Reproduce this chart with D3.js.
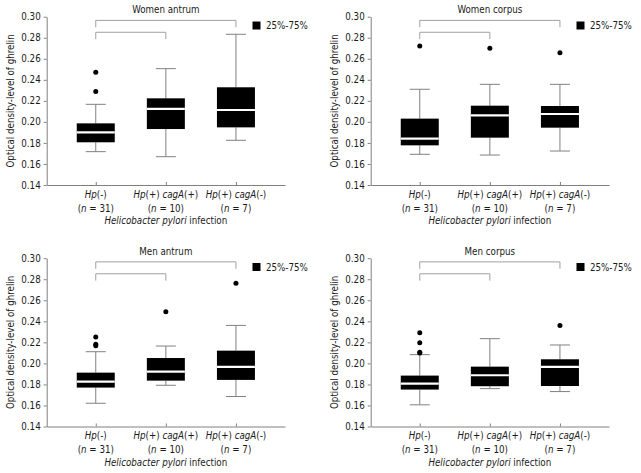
<!DOCTYPE html>
<html><head><meta charset="utf-8">
<script src="https://cdn.jsdelivr.net/npm/d3@7"></script>
<style>
body{margin:0;background:#fff;}
svg{display:block;}
text{font-family:"DejaVu Sans Condensed","DejaVu Sans",sans-serif;font-stretch:condensed;fill:#1a1a1a;}
</style></head>
<body><svg id="chart" width="641" height="473"></svg>
<script>
// ---------- data ----------
const categories = ["Hp(-)", "Hp(+) cagA(+)", "Hp(+) cagA(-)"];
const sampleSizes = [31, 10, 7];
const panelTitles = ["Women antrum", "Women corpus", "Men antrum", "Men corpus"];
const yTicks = [0.14, 0.16, 0.18, 0.20, 0.22, 0.24, 0.26, 0.28, 0.30];
const legendLabel = "25%-75%";
const xAxisTitle = ["Helicobacter pylori", " infection"];
const yAxisTitle = "Optical density-level of ghrelin";

// each row: [whisker low, Q1, median, Q3, whisker high]
const womenAntrum = [
  [0.1717, 0.1806, 0.1900, 0.1986, 0.2167],
  [0.1669, 0.1932, 0.2123, 0.2224, 0.2506],
  [0.1825, 0.1948, 0.2113, 0.2329, 0.2833]
];
const womenAntrumOutliers = [[0.2471, 0.2288], [], []];

const womenCorpus = [
  [0.1692, 0.1777, 0.1840, 0.2031, 0.2310],
  [0.1685, 0.1850, 0.2062, 0.2154, 0.2357],
  [0.1723, 0.1945, 0.2075, 0.2151, 0.2357]
];
const womenCorpusOutliers = [[0.2722], [0.2700], [0.2658]];

const menAntrum = [
  [0.1621, 0.1770, 0.1827, 0.1912, 0.2111],
  [0.1792, 0.1836, 0.1922, 0.2051, 0.2165],
  [0.1685, 0.1843, 0.1966, 0.2121, 0.2361]
];
const menAntrumOutliers = [[0.2251, 0.2183, 0.2168], [0.2491], [0.2763]];

const menCorpus = [
  [0.1606, 0.1751, 0.1808, 0.1884, 0.2083],
  [0.1760, 0.1783, 0.1887, 0.1969, 0.2235],
  [0.1732, 0.1785, 0.1966, 0.2039, 0.2175]
];
const menCorpusOutliers = [[0.2292, 0.2197, 0.2106, 0.2099], [], [0.2361]];

// comparison brackets: [from category index, to category index, level]
const brackets = [[0, 2, 0.2965], [0, 1, 0.2852]];
const bracketDrop = 0.0065;

// ---------- drawing ----------
const panels = [
  {title: panelTitles[0], stats: womenAntrum, out: womenAntrumOutliers, ox: 0,   oy: 0},
  {title: panelTitles[1], stats: womenCorpus, out: womenCorpusOutliers, ox: 324, oy: 0},
  {title: panelTitles[2], stats: menAntrum,   out: menAntrumOutliers,   ox: 0,   oy: 241.5},
  {title: panelTitles[3], stats: menCorpus,   out: menCorpusOutliers,   ox: 324, oy: 241.5}
];

const svg = d3.select("#chart");
const FS = 9.7;
const gray = "#808080";

panels.forEach(p => {
  const g = svg.append("g").attr("transform", `translate(${p.ox},${p.oy})`);
  const y = d3.scaleLinear().domain([0.14, 0.30]).range([185, 16.7]);
  const x = d3.scalePoint().domain(categories).range([46.7, 285]).padding(0.7);
  const boxW = 38, capW = 20;

  // y axis
  const ya = g.append("g").attr("transform", "translate(46.7,0)")
    .call(d3.axisLeft(y).tickValues(yTicks).tickFormat(d3.format(".2f")).tickSize(3).tickSizeOuter(0).tickPadding(3));
  ya.selectAll("path,line").attr("stroke", gray);
  ya.selectAll("text").attr("font-size", FS).attr("fill", "#1a1a1a");
  ya.attr("font-family", null).attr("font-size", null);

  // x axis
  const xa = g.append("g").attr("transform", "translate(0,185)")
    .call(d3.axisBottom(x).tickSize(-3).tickSizeOuter(0).tickFormat(""));
  xa.selectAll("path,line").attr("stroke", gray);
  xa.attr("font-family", null);

  // brackets
  brackets.forEach(b => {
    const x1 = x(categories[b[0]]), x2 = x(categories[b[1]]);
    g.append("path")
      .attr("d", `M${x1},${y(b[2] - bracketDrop)}V${y(b[2])}H${x2}V${y(b[2] - bracketDrop)}`)
      .attr("fill", "none").attr("stroke", "#a0a0a0").attr("stroke-width", 1);
  });

  // boxes
  p.stats.forEach((s, i) => {
    const cx = x(categories[i]);
    const [lo, q1, med, q3, hi] = s;
    g.append("line").attr("x1", cx).attr("x2", cx).attr("y1", y(q3)).attr("y2", y(hi)).attr("stroke", gray);
    g.append("line").attr("x1", cx).attr("x2", cx).attr("y1", y(q1)).attr("y2", y(lo)).attr("stroke", gray);
    g.append("line").attr("x1", cx - capW / 2).attr("x2", cx + capW / 2).attr("y1", y(hi)).attr("y2", y(hi)).attr("stroke", gray);
    g.append("line").attr("x1", cx - capW / 2).attr("x2", cx + capW / 2).attr("y1", y(lo)).attr("y2", y(lo)).attr("stroke", gray);
    g.append("rect").attr("x", cx - boxW / 2).attr("width", boxW)
      .attr("y", y(q3)).attr("height", y(q1) - y(q3)).attr("fill", "#000");
    g.append("line").attr("x1", cx - boxW / 2).attr("x2", cx + boxW / 2).attr("y1", y(med)).attr("y2", y(med))
      .attr("stroke", "#fff").attr("stroke-width", 2.2);
    p.out[i].forEach(v => {
      g.append("circle").attr("cx", cx).attr("cy", y(v)).attr("r", 2.5).attr("fill", "#000");
    });
  });

  // title
  g.append("text").attr("x", x(categories[1])).attr("y", 13.3).attr("text-anchor", "middle")
    .attr("font-size", FS).text(p.title);

  // legend
  g.append("rect").attr("x", 252.5).attr("y", 21.5).attr("width", 8).attr("height", 8).attr("fill", "#000");
  g.append("text").attr("x", 266).attr("y", 29).attr("font-size", FS).text(legendLabel);

  // category labels
  categories.forEach((c, i) => {
    const cx = x(c);
    const t1 = g.append("text").attr("x", cx).attr("y", 197.5).attr("text-anchor", "middle").attr("font-size", FS);
    const parts = c.split(" ");
    parts.forEach((part, k) => {
      const m = part.match(/^([A-Za-z]+)(.*)$/);
      t1.append("tspan").attr("font-style", "italic").text((k > 0 ? " " : "") + m[1]);
      t1.append("tspan").text(m[2]);
    });
    const t2 = g.append("text").attr("x", cx).attr("y", 211.5).attr("text-anchor", "middle").attr("font-size", FS);
    t2.append("tspan").text("(");
    t2.append("tspan").attr("font-style", "italic").text("n");
    t2.append("tspan").text(" = " + sampleSizes[i] + ")");
  });

  // x axis title
  const xt = g.append("text").attr("x", x(categories[1])).attr("y", 224).attr("text-anchor", "middle").attr("font-size", FS);
  xt.append("tspan").attr("font-style", "italic").text(xAxisTitle[0]);
  xt.append("tspan").text(xAxisTitle[1]);

  // y axis title
  g.append("text").attr("transform", `translate(14,${y(0.22)}) rotate(-90)`).attr("text-anchor", "middle")
    .attr("font-size", FS).text(yAxisTitle);
});
</script></body></html>
